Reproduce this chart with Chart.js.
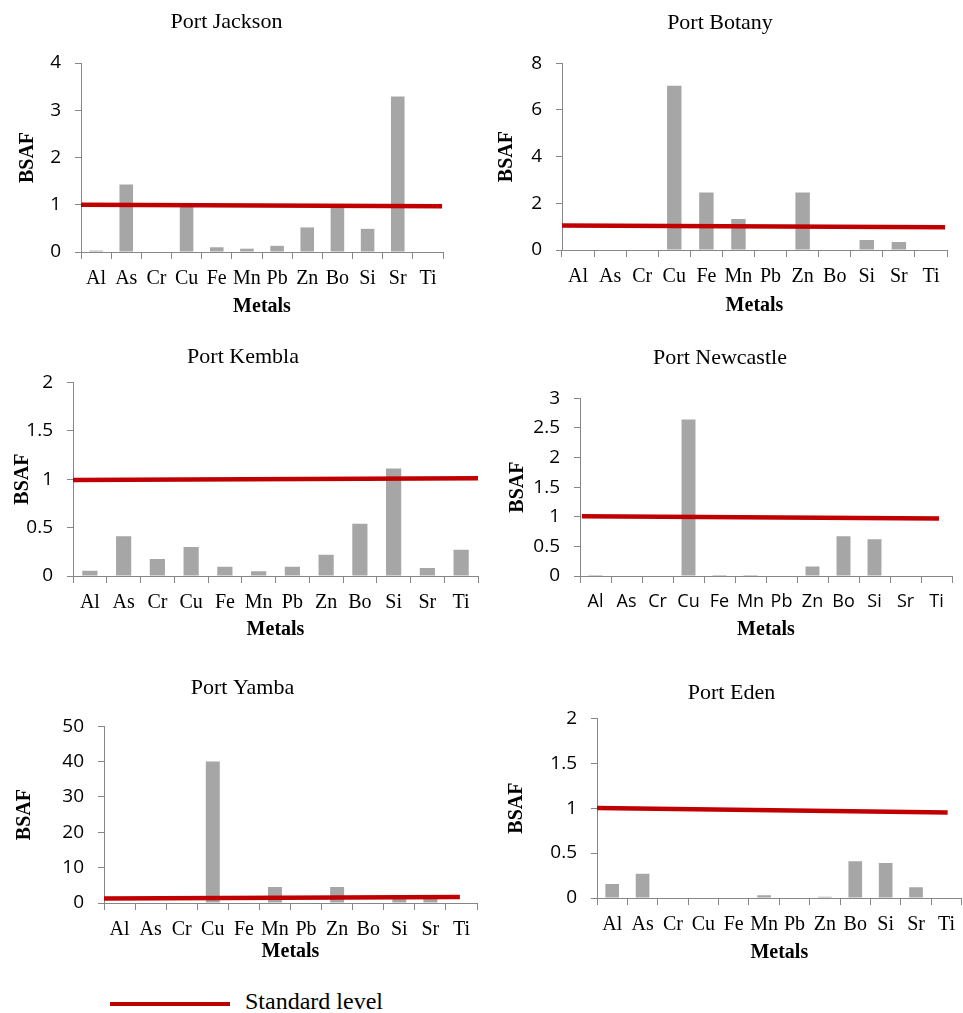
<!DOCTYPE html>
<html>
<head>
<meta charset="utf-8">
<script src="https://cdn.jsdelivr.net/npm/chart.js@4.4.0/dist/chart.umd.min.js"></script>
<style>
  body { margin: 0; background: #fff; width: 963px; height: 1013px; position: relative; overflow: hidden; }
  canvas { position: absolute; }
  #legendLine { position: absolute; left: 110px; top: 1002px; width: 120px; height: 4px; background: #C00000; }
  #legendText { position: absolute; left: 245px; top: 988px; font: 24px "Liberation Serif", serif; color: #000; }
</style>
</head>
<body>
<div id="legendLine"></div>
<div id="legendText">Standard level</div>

<script>
// Data
const metals = ["Al", "As", "Cr", "Cu", "Fe", "Mn", "Pb", "Zn", "Bo", "Si", "Sr", "Ti"];

const jackson   = [0.03, 1.43, 0, 0.99, 0.1, 0.07, 0.13, 0.52, 0.97, 0.49, 3.29, 0];
const botany    = [0, 0, 0, 7.03, 2.46, 1.33, 0, 2.46, 0, 0.43, 0.34, 0];
const kembla    = [0.055, 0.41, 0.175, 0.3, 0.096, 0.05, 0.096, 0.22, 0.54, 1.11, 0.083, 0.27];
const newcastle = [0.017, 0, 0, 2.64, 0.017, 0.017, 0, 0.16, 0.67, 0.62, 0, 0];
const yamba     = [0, 0, 0, 40, 0, 4.5, 0, 4.5, 0, 1.1, 1.1, 0];
const eden      = [0.155, 0.27, 0, 0, 0, 0.03, 0, 0.015, 0.41, 0.39, 0.12, 0];

// Standard level line: start/end (x in category units, y in BSAF)
const jacksonStd   = [[-0.5, 1.0], [11.47, 0.97]];
const botanyStd    = [[-0.5, 1.05], [11.44, 0.97]];
const kemblaStd    = [[-0.5, 0.99], [11.5, 1.01]];
const newcastleStd = [[-0.44, 1.01], [11.08, 0.97]];
const yambaStd     = [[-0.5, 1.3], [10.95, 1.7]];
const edenStd      = [[-0.5, 1.0], [11.04, 0.95]];

const yMax  = { jackson: 4, botany: 8, kembla: 2, newcastle: 3, yamba: 50, eden: 2 };
const yStep = { jackson: 1, botany: 2, kembla: 0.5, newcastle: 0.5, yamba: 10, eden: 0.5 };

const BAR_COLOR = "#A6A6A6";
const STD_COLOR = "#C00000";
const AXIS_COLOR = "#868686";

// Panel placement (canvas box + fixed axis sizes)
const panels = [
  { key: "jackson",   title: "Port Jackson",   values: jackson,   std: jacksonStd,   left: 10,  top: 9,   right: 462, yw: 71, xh: 67, rp: 19, tpad: 27.6, ypad: 6 },
  { key: "botany",    title: "Port Botany",    values: botany,    std: botanyStd,    left: 493, top: 10,  right: 951, yw: 69, xh: 68, rp: 4,  tpad: 26.8, ypad: 2 },
  { key: "kembla",    title: "Port Kembla",    values: kembla,    std: kemblaStd,    left: 8,   top: 344, right: 480, yw: 65, xh: 66, rp: 2,  tpad: 11.8, ypad: 3 },
  { key: "newcastle", title: "Port Newcastle", values: newcastle, std: newcastleStd, left: 488, top: 345, right: 956, yw: 92, xh: 66, rp: 4,  tpad: 26.8, ypad: 18, sansLabels: true },
  { key: "yamba",     title: "Port Yamba",     values: yamba,     std: yambaStd,     left: 8,   top: 675, right: 480, yw: 96, xh: 61, rp: 3,  tpad: 24.8, ypad: 5 },
  { key: "eden",      title: "Port Eden",      values: eden,      std: edenStd,      left: 501, top: 680, right: 963, yw: 96, xh: 67, rp: 1,  tpad: 11.8, ypad: 4 }
];

// chart area bottoms
const chartBottoms = { jackson: 252, botany: 250, kembla: 576, newcastle: 576, yamba: 903, eden: 898 };

panels.forEach(p => {
  const canvas = document.createElement("canvas");
  const height = chartBottoms[p.key] + p.xh - p.top;
  canvas.width = p.right - p.left;
  canvas.height = height;
  canvas.style.left = p.left + "px";
  canvas.style.top = p.top + "px";
  document.body.appendChild(canvas);

  const labelFont = p.sansLabels
    ? { family: "'Open Sans', sans-serif", size: 18 }
    : { family: "'Liberation Serif', serif", size: 20 };

  new Chart(canvas, {
    type: "bar",
    data: {
      labels: metals,
      datasets: [
        {
          type: "line",
          label: "Standard level",
          xAxisID: "xs",
          yAxisID: "y",
          data: p.std.map(pt => ({ x: pt[0], y: pt[1] })),
          borderColor: STD_COLOR,
          borderWidth: 4.5,
          pointRadius: 0,
          fill: false,
          order: 0
        },
        {
          label: p.title,
          xAxisID: "x",
          yAxisID: "y",
          data: p.values,
          backgroundColor: BAR_COLOR,
          grouped: false,
          categoryPercentage: 1,
          barPercentage: 0.45,
          order: 1
        }
      ]
    },
    options: {
      responsive: false,
      animation: false,
      layout: { padding: { left: 0, top: 0, right: p.rp, bottom: 0 } },
      plugins: {
        legend: { display: false },
        tooltip: { enabled: false },
        title: {
          display: true,
          text: p.title,
          color: "#000",
          font: { family: "'Liberation Serif', serif", size: 22, weight: "normal" },
          padding: { top: 0, bottom: p.tpad }
        }
      },
      scales: {
        x: {
          type: "category",
          offset: true,
          border: { color: AXIS_COLOR, width: 1 },
          grid: { drawOnChartArea: false, drawTicks: true, tickLength: 7, color: AXIS_COLOR, offset: true },
          ticks: { color: "#000", font: labelFont, padding: 8, autoSkip: false, maxRotation: 0, minRotation: 0 },
          title: {
            display: true,
            text: "Metals",
            color: "#000",
            font: { family: "'Liberation Serif', serif", size: 20, weight: "bold" },
            padding: { top: 0, bottom: 0 }
          },
          afterFit: s => { s.height = p.xh; }
        },
        xs: { type: "linear", display: false, offset: false, min: -0.5, max: 11.5, grid: { offset: false } },
        y: {
          min: 0,
          max: yMax[p.key],
          border: { color: AXIS_COLOR, width: 1 },
          grid: { drawOnChartArea: false, drawTicks: true, tickLength: 6, color: AXIS_COLOR },
          ticks: {
            stepSize: yStep[p.key],
            color: "#000",
            padding: 14,
            font: { family: "'Open Sans', sans-serif", size: 19 },
            callback: v => String(+v.toFixed(2))
          },
          title: {
            display: true,
            text: "BSAF",
            color: "#000",
            font: { family: "'Liberation Serif', serif", size: 20, weight: "bold" },
            padding: { top: p.ypad, bottom: 0 }
          },
          afterFit: s => { s.width = p.yw; }
        }
      }
    }
  });
});
</script>
</body>
</html>
